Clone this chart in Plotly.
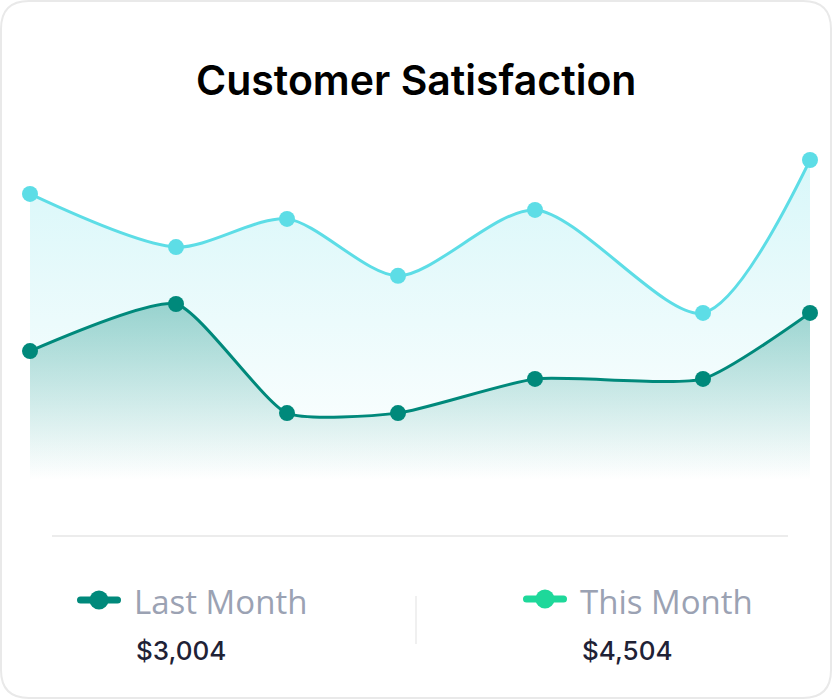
import plotly.graph_objects as go

W, H = 832, 700

# ---- data ----
x_vals = [0, 14.6, 25.7, 36.8, 50.5, 67.3, 78.0]
this_month = [89.4, 72.8, 81.6, 63.8, 84.4, 52.2, 100.0]
last_month = [40.3, 55.0, 20.9, 20.9, 31.6, 31.6, 52.2]

title_text = "Customer Satisfaction"
legend_labels = ["Last Month", "This Month"]
legend_values = ["$3,004", "$4,504"]

CYAN = "#5ddde6"
TEAL = "#00897b"
GREEN_ICON = "#1ed89a"

fig = go.Figure()

fig.add_trace(go.Scatter(
    x=x_vals, y=this_month, mode="lines+markers",
    line=dict(color=CYAN, width=3, shape="spline", smoothing=0.8),
    marker=dict(color=CYAN, size=16),
    fill="tozeroy",
    fillgradient=dict(type="vertical", start=0, stop=100,
                      colorscale=[[0, "rgba(93,221,230,0)"],
                                  [1, "rgba(93,221,230,0.24)"]]),
    cliponaxis=False, hoverinfo="skip", showlegend=False,
))
fig.add_trace(go.Scatter(
    x=x_vals, y=last_month, mode="lines+markers",
    line=dict(color=TEAL, width=3, shape="spline", smoothing=0.55),
    marker=dict(color=TEAL, size=16),
    fill="tozeroy",
    fillgradient=dict(type="vertical", start=0, stop=55,
                      colorscale=[[0, "rgba(0,137,123,0)"],
                                  [1, "rgba(0,137,123,0.35)"]]),
    cliponaxis=False, hoverinfo="skip", showlegend=False,
))

def px(x):
    return x / W

def py(y):
    return 1 - y / H

def rounded_rect(x0, y0, x1, y1, rx, ry):
    return (
        f"M {px(x0 + rx)},{py(y0)} L {px(x1 - rx)},{py(y0)} "
        f"Q {px(x1)},{py(y0)} {px(x1)},{py(y0 + ry)} "
        f"L {px(x1)},{py(y1 - ry)} Q {px(x1)},{py(y1)} {px(x1 - rx)},{py(y1)} "
        f"L {px(x0 + rx)},{py(y1)} Q {px(x0)},{py(y1)} {px(x0)},{py(y1 - ry)} "
        f"L {px(x0)},{py(y0 + ry)} Q {px(x0)},{py(y0)} {px(x0 + rx)},{py(y0)} Z"
    )

shapes = []
# card border with rounded corners
shapes.append(dict(type="path", xref="paper", yref="paper",
                   path=rounded_rect(1, 1, 831, 698, 28, 28),
                   line=dict(color="#e9e9e9", width=2), layer="below"))
# horizontal divider
shapes.append(dict(type="line", xref="paper", yref="paper",
                   x0=px(52), x1=px(788), y0=py(536), y1=py(536),
                   line=dict(color="#ececec", width=2)))
# vertical divider
shapes.append(dict(type="line", xref="paper", yref="paper",
                   x0=px(416), x1=px(416), y0=py(596), y1=py(644),
                   line=dict(color="#f0f0f0", width=2)))

# legend icons (rounded bar + dot)
icon_specs = [(77, 121, 600, TEAL), (523, 567, 599, GREEN_ICON)]
for (ix0, ix1, iy, col) in icon_specs:
    shapes.append(dict(type="path", xref="paper", yref="paper",
                       path=rounded_rect(ix0, iy - 3.5, ix1, iy + 3.5, 3.5, 3.5),
                       fillcolor=col, line=dict(color=col, width=0)))
    cx = (ix0 + ix1) / 2
    rr = 9.5
    shapes.append(dict(type="circle", xref="paper", yref="paper",
                       x0=px(cx - rr), x1=px(cx + rr), y0=py(iy - rr), y1=py(iy + rr),
                       fillcolor=col, line=dict(color=col, width=0)))

annotations = [
    dict(text=title_text, xref="paper", yref="paper", x=0.5, y=py(80),
         xanchor="center", yanchor="middle", showarrow=False,
         font=dict(family="Inter, Roboto, sans-serif", size=41, color="#000000", weight=600)),
]
text_x = [132, 578]
for lbl, val, tx in zip(legend_labels, legend_values, text_x):
    annotations.append(dict(text=lbl, xref="paper", yref="paper", x=px(tx), y=py(601),
                            xanchor="left", yanchor="middle", showarrow=False,
                            font=dict(family="'Open Sans', Lato, sans-serif", size=33,
                                      color="#9ba2b3")))
    annotations.append(dict(text=val, xref="paper", yref="paper", x=px(tx + 2), y=py(650),
                            xanchor="left", yanchor="middle", showarrow=False,
                            font=dict(family="Inter, 'Open Sans', sans-serif", size=26,
                                      color="#1f2236", weight=500)))

fig.update_layout(
    width=W, height=H,
    margin=dict(l=0, r=0, t=0, b=0),
    paper_bgcolor="white", plot_bgcolor="rgba(0,0,0,0)",
    xaxis=dict(domain=[px(30), px(810)], range=[x_vals[0], x_vals[-1]],
               visible=False, fixedrange=True),
    yaxis=dict(domain=[py(480), py(160)], range=[0, 100],
               visible=False, fixedrange=True),
    shapes=shapes, annotations=annotations,
    showlegend=False,
)

fig.write_html("out.html", config={"displayModeBar": False},
               post_script="document.body.style.margin='0';")
